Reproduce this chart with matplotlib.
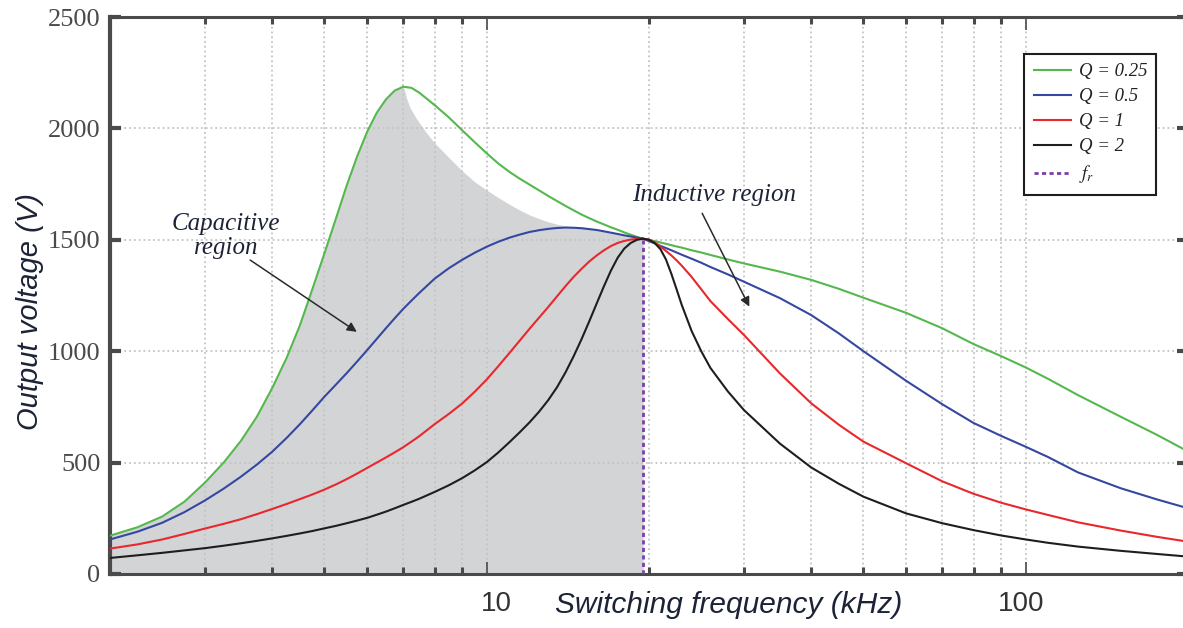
import matplotlib
matplotlib.use("Agg")
import matplotlib.pyplot as plt
import matplotlib.transforms as mtransforms
from matplotlib.ticker import FixedLocator, NullFormatter, FixedFormatter

# switching frequency (kHz) and output voltage (V)
freq = [2, 2.25, 2.5, 2.75, 3, 3.25, 3.5, 3.75, 4, 4.25, 4.5, 4.75, 5, 5.25, 5.5, 5.75, 6, 6.25, 6.5, 6.75,
        7, 7.25, 7.5, 8, 8.5, 9, 9.5, 10, 10.5, 11, 11.5, 12, 12.5, 13, 13.5, 14, 14.5, 15, 15.5, 16,
        16.5, 17, 17.5, 18, 18.5, 19, 19.5, 20, 20.5, 21, 21.5, 22, 22.5, 23, 24, 25, 26, 28, 30, 35,
        40, 45, 50, 60, 70, 80, 90, 100, 110, 125, 150, 175, 200]

v_q025 = [172, 210, 258, 325, 410, 500, 598, 708, 835, 968, 1115, 1280, 1440, 1595, 1745, 1875, 1985, 2070, 2130, 2170,
          2187, 2182, 2160, 2105, 2050, 1992, 1938, 1888, 1843, 1806, 1775, 1748, 1722, 1697, 1674, 1652, 1632, 1613, 1597, 1582,
          1569, 1556, 1545, 1533, 1523, 1513, 1505, 1500, 1494, 1488, 1482, 1476, 1470, 1465, 1453, 1443, 1432, 1412, 1394, 1357,
          1320, 1280, 1240, 1172, 1103, 1032, 978, 927, 876, 803, 706, 625, 550]
v_q05 = [155, 190, 230, 278, 330, 383, 437, 492, 549, 610, 672, 735, 796, 850, 902, 954, 1005, 1055, 1103, 1148,
         1190, 1227, 1262, 1325, 1372, 1410, 1442, 1469, 1491, 1509, 1523, 1535, 1543, 1549, 1553, 1555, 1554, 1552, 1548, 1544,
         1538, 1532, 1526, 1520, 1515, 1510, 1505, 1494, 1484, 1473, 1463, 1453, 1443, 1433, 1415, 1397, 1378, 1345, 1312, 1238,
         1162, 1080, 1000, 867, 762, 678, 620, 571, 525, 456, 385, 335, 295]
v_q1 = [114, 133, 155, 180, 204, 225, 246, 269, 292, 314, 336, 357, 379, 402, 426, 451, 476, 500, 523, 546,
        569, 594, 619, 672, 718, 765, 818, 873, 932, 990, 1046, 1100, 1150, 1198, 1246, 1292, 1334, 1370, 1403, 1430,
        1453, 1472, 1486, 1495, 1501, 1504, 1505, 1500, 1488, 1470, 1450, 1430, 1408, 1384, 1333, 1278, 1225, 1145, 1073, 900,
        766, 670, 594, 497, 416, 360, 320, 290, 265, 232, 195, 167, 145]
v_q2 = [72, 84, 95, 106, 116, 127, 138, 149, 160, 171, 182, 193, 205, 216, 228, 240, 252, 266, 280, 295,
        310, 324, 338, 368, 398, 430, 465, 502, 545, 590, 635, 680, 728, 780, 838, 905, 978, 1055, 1135, 1215,
        1292, 1362, 1420, 1461, 1486, 1500, 1505, 1500, 1485, 1458, 1412, 1348, 1278, 1208, 1090, 1000, 925, 820, 736, 585,
        478, 405, 347, 272, 228, 197, 173, 155, 140, 123, 104, 90, 78]

# edge of the shaded capacitive region after the Q = 0.25 peak
edge_f = [7.05, 7.1, 7.2, 7.4, 7.7, 8, 8.5, 9, 9.5, 10, 10.5, 11, 11.5, 12, 12.5, 13, 13.5, 14, 15, 16, 17, 18, 19, 19.5]
edge_v = [2165, 2135, 2095, 2045, 1985, 1935, 1870, 1810, 1760, 1723, 1690, 1660, 1634, 1612, 1595, 1581, 1570, 1562,
          1553, 1544, 1532, 1520, 1510, 1505]

fr = 19.5
v_fr = 1505

labels = ["Q = 0.25", "Q = 0.5", "Q = 1", "Q = 2"]
colors = ["#55b84e", "#3548a0", "#e8282c", "#1e1e1e"]

plt.rcParams['mathtext.fontset'] = 'stix'
serif = "Liberation Serif"
sans = "Liberation Sans"

fig = plt.figure(figsize=(11.83, 6.28), dpi=100)
ax = fig.add_axes([110/1183, 1-574/628, 1078/1183, 557/628])

k = freq.index(7)
fill_f = freq[:k+1] + edge_f
fill_v = v_q025[:k+1] + edge_v
ax.fill_between(fill_f, 0, fill_v, color="#d3d4d6", lw=0, zorder=1)
for v, c, lab in zip([v_q025, v_q05, v_q1, v_q2], colors, labels):
    ax.plot(freq, v, color=c, lw=1.5, label=lab, zorder=3)
ax.vlines(fr, 0, v_fr, colors="#7a3fa8", linestyles=(0, (1.5, 1.2)), lw=2, label=r"$f_r$", zorder=4)

ax.set_xscale("log")
ax.set_xlim(2, 200)
ax.set_ylim(0, 2500)

ax.xaxis.set_major_locator(FixedLocator([10, 100]))
ax.xaxis.set_major_formatter(FixedFormatter(["10", "100"]))
ax.xaxis.set_minor_locator(FixedLocator([3, 4, 5, 6, 7, 8, 9, 20, 30, 40, 50, 60, 70, 80, 90]))
ax.xaxis.set_minor_formatter(NullFormatter())
ax.set_yticks([0, 500, 1000, 1500, 2000, 2500])

ax.grid(True, which="both", axis="x", color="#c4c4c4", ls=":", lw=1.3)
ax.grid(True, which="major", axis="y", color="#c4c4c4", ls=":", lw=1.3)

ax.tick_params(axis="y", which="major", direction="in", length=8, width=3, color="#4a4a4a",
               left=True, right=True, pad=7, labelsize=19, labelcolor="#4a4a4a")
ax.tick_params(axis="x", which="major", direction="in", length=9, width=1.2, color="#4a4a4a",
               top=True, bottom=True, pad=12, labelsize=20, labelcolor="#333333")
ax.tick_params(axis="x", which="minor", direction="in", length=5, width=2.2, color="#4a4a4a",
               top=True, bottom=True)
for t in ax.get_yticklabels():
    t.set_fontfamily(serif)
# the x tick labels sit a little off their ticks in the original
for t, dx in zip(ax.get_xticklabels(), [10, -5]):
    t.set_fontfamily(sans)
    t.set_transform(t.get_transform() + mtransforms.ScaledTranslation(dx/100, 0, fig.dpi_scale_trans))

for s in ax.spines.values():
    s.set_color("#4a4a4a")
    s.set_linewidth(2.2)
ax.spines["left"].set_linewidth(3)

fig.text(30/1183, 1-311/628, "Output voltage (V)", rotation=90, ha="center", va="center",
         fontsize=21, style="italic", family=sans, color="#1c2336")
fig.text(729/1183, 1-605/628, "Switching frequency (kHz)", ha="center", va="center",
         fontsize=21.5, style="italic", family=sans, color="#1c2336")

ax.text(3.28, 1517, "Capacitive\nregion", ha="center", va="center", fontsize=18, style="italic",
        family=serif, color="#1c2336", linespacing=1.15)
ax.annotate("", xy=(5.74, 1087), xytext=(3.64, 1409),
            arrowprops=dict(arrowstyle="-|>", color="#2a2a2a", lw=1.1, mutation_scale=14, shrinkA=0, shrinkB=0))
ax.text(26.4, 1701, "Inductive region", ha="center", va="center", fontsize=18, style="italic",
        family=serif, color="#1c2336")
ax.annotate("", xy=(30.7, 1200), xytext=(25.1, 1619),
            arrowprops=dict(arrowstyle="-|>", color="#2a2a2a", lw=1.1, mutation_scale=14, shrinkA=0, shrinkB=0))

leg = ax.legend(loc="upper left", bbox_to_anchor=(0.848, 0.934), borderaxespad=0,
                prop={"family": serif, "style": "italic", "size": 13.5}, fancybox=False,
                framealpha=1, edgecolor="#1e1e1e", handlelength=2.0, handletextpad=0.4,
                labelspacing=0.42, borderpad=0.5)
leg.get_frame().set_linewidth(1.5)
for t in leg.get_texts():
    t.set_color("#222222")

fig.savefig("out.png", dpi=100)
